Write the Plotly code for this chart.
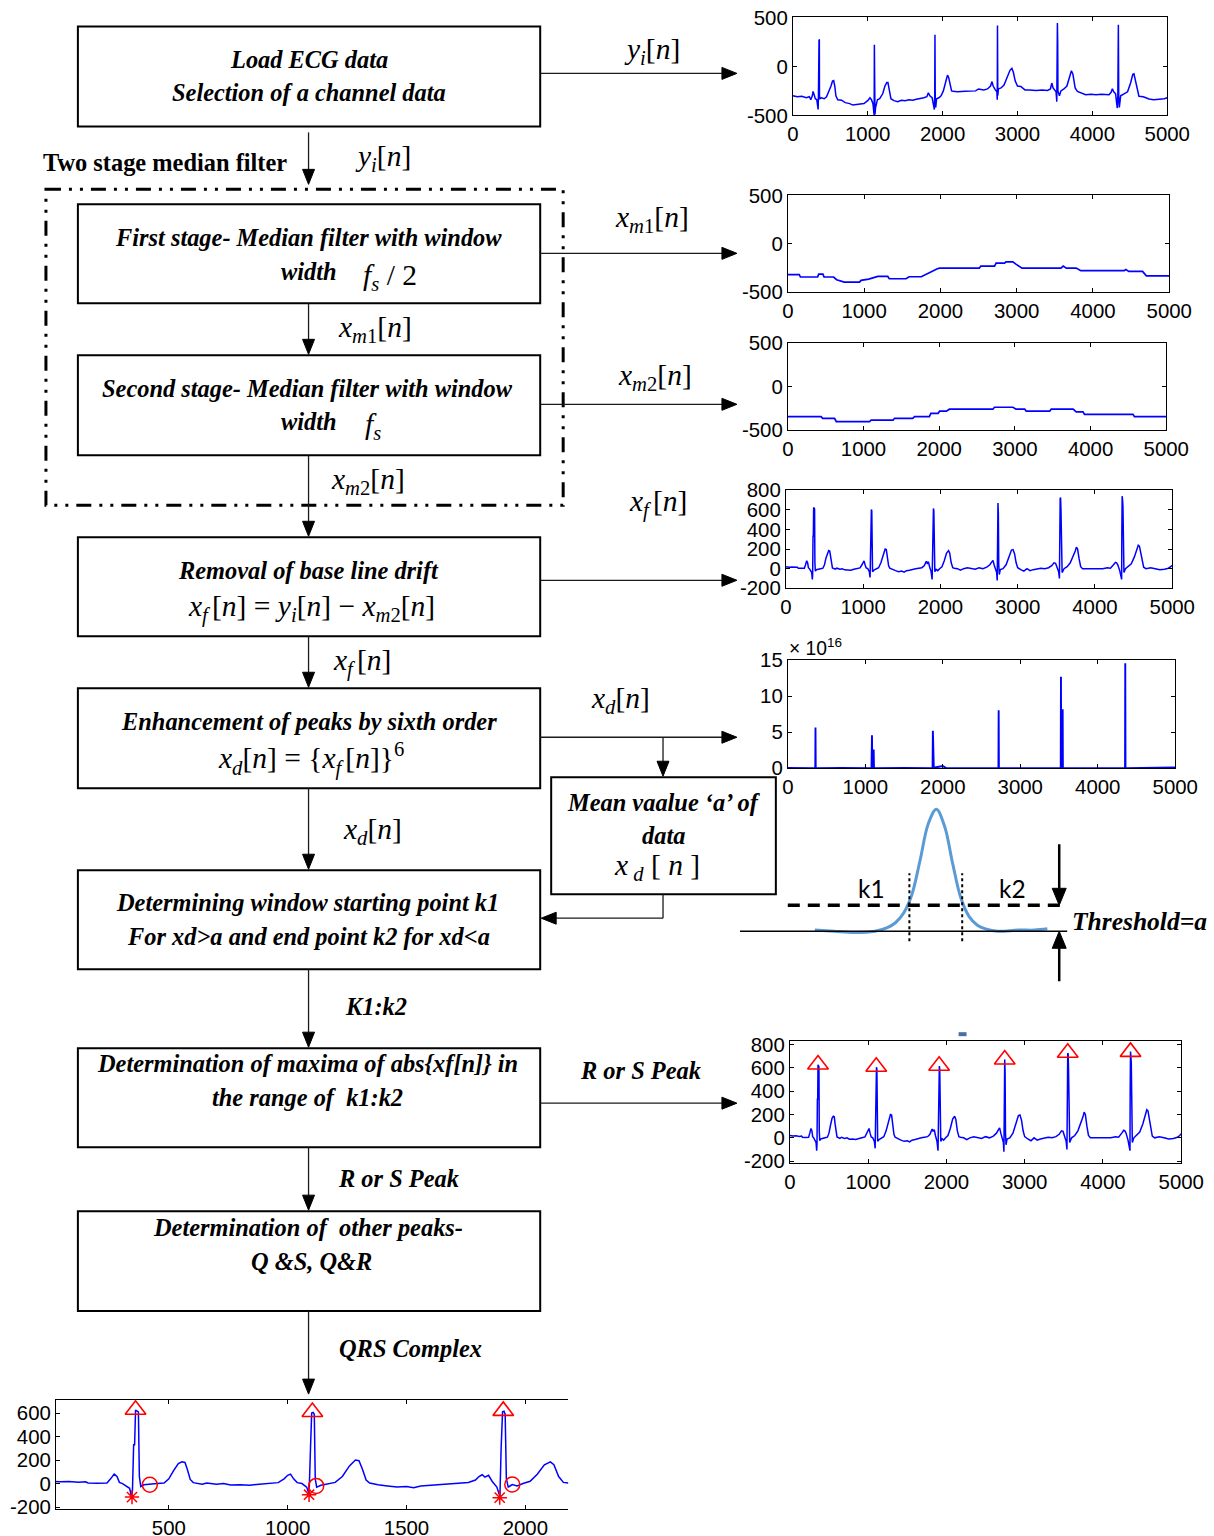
import plotly.graph_objects as go

# Target page size; the figure is laid out in target-page pixel units and
# mapped onto the figure through a small linear calibration of the capture.
W, H = 1214, 1536
SX, SY = 0.978, 0.986      # page px per figure px
CX, CY = 5.0, 9.6          # page offset of the figure origin
FW = round((W - CX) / SX)
FH = round((H - CY) / SY)
FS = 1.0 / 0.982           # font scale for the capture
SERIF = "Liberation Serif"
SANS = "Liberation Sans"
ECG_BLUE = "#0000ff"

# ---------------------------------------------------------------------------
# Signals: sample index n and amplitude
# ---------------------------------------------------------------------------
# raw channel y_i[n]
yi_n = [0, 60, 120, 180, 220, 240, 260, 270, 285, 300, 320, 338, 342, 344, 348, 350, 354, 356, 362, 380,
        420, 450, 480, 510, 530, 545, 560, 575, 600, 650, 700, 760, 800, 850, 900, 950, 1000, 1030, 1050, 1070,
        1082, 1086, 1089, 1093, 1097, 1105, 1130, 1160, 1200, 1230, 1255, 1270, 1290, 1310, 1350, 1400, 1450, 1500, 1550, 1600,
        1650, 1700, 1750, 1790, 1810, 1830, 1860, 1880, 1890, 1895, 1898, 1902, 1908, 1920, 1950, 1980, 2010, 2040, 2065, 2080,
        2100, 2120, 2140, 2200, 2300, 2400, 2440, 2480, 2550, 2600, 2640, 2660, 2675, 2700, 2725, 2730, 2733, 2737, 2745, 2780,
        2820, 2860, 2900, 2925, 2945, 2970, 3000, 3044, 3100, 3160, 3250, 3330, 3400, 3440, 3458, 3475, 3500, 3515, 3525, 3530,
        3533, 3537, 3540, 3560, 3580, 3620, 3660, 3700, 3720, 3740, 3770, 3800, 3850, 3910, 3980, 4050, 4120, 4180, 4222, 4250,
        4267, 4285, 4310, 4325, 4333, 4340, 4347, 4352, 4360, 4378, 4420, 4470, 4510, 4540, 4555, 4575, 4600, 4622, 4680, 4756,
        4820, 4900, 4960, 5000]
yi_v = [-300, -310, -305, -320, -310, -340, -300, -255, -290, -330, -340, -440, -300, 85, 90, 272, 270, -300, -330, -320,
        -330, -310, -260, -200, -150, -145, -200, -300, -340, -345, -370, -380, -395, -390, -385, -380, -350, -320, -340, -380,
        -470, -500, 221, -300, -490, -420, -340, -330, -280, -200, -165, -165, -260, -330, -350, -360, -345, -350, -340, -345,
        -335, -330, -320, -310, -270, -300, -320, -400, -440, -300, 323, -350, -420, -330, -320, -300, -250, -170, -90, -110,
        -200, -250, -255, -260, -255, -255, -250, -230, -240, -230, -200, -155, -200, -235, -260, -340, 418, -300, -230, -220,
        -190, -120, -40, -20, -60, -150, -200, -205, -240, -240, -245, -240, -245, -230, -170, -220, -250, -260, -360, 240,
        442, 240, -250, -300, -250, -230, -200, -100, -45, -80, -220, -255, -270, -290, -285, -290, -285, -290, -290, -265,
        -228, -260, -280, -380, -425, -300, 425, -300, -420, -300, -285, -260, -170, -80, -75, -150, -260, -305, -310, -333,
        -340, -335, -330, -320]

# first median stage x_m1[n]
xm1_n = [0, 150, 165, 390, 405, 460, 475, 600, 640, 700, 740, 940, 960, 1060, 1150, 1180, 1310, 1330, 1550, 1590,
         1750, 1800, 1880, 1960, 1990, 2510, 2530, 2710, 2730, 2840, 2860, 2950, 2990, 3040, 3070, 3580, 3610, 3650, 3780, 3840,
         4410, 4430, 4470, 4650, 4700, 5000]
xm1_v = [-318, -318, -342, -342, -312, -312, -342, -342, -370, -385, -394, -394, -377, -363, -340, -336, -336, -360, -360, -339,
         -339, -318, -291, -257, -250, -250, -229, -229, -199, -199, -185, -185, -209, -233, -250, -250, -229, -250, -250, -277,
         -277, -264, -284, -284, -330, -330]

# second median stage x_m2[n]
xm2_n = [0, 440, 460, 617, 640, 1080, 1100, 1390, 1410, 1650, 1675, 1870, 1890, 1985, 2005, 2095, 2135, 2710, 2730, 2975,
         3015, 3130, 3150, 3460, 3480, 3770, 3810, 3900, 3920, 4560, 4580, 5000]
xm2_v = [-343, -343, -362, -362, -399, -399, -384, -384, -362, -362, -343, -343, -306, -306, -280, -280, -257, -257, -235, -235,
         -257, -257, -280, -280, -257, -257, -287, -287, -317, -317, -343, -343]

# baseline-corrected x_f[n]
xf_n = [0, 40, 80, 120, 150, 160, 200, 240, 255, 270, 282, 292, 305, 322, 335, 343, 347, 352, 356, 360,
        366, 372, 376, 382, 395, 420, 450, 480, 500, 520, 540, 555, 568, 578, 590, 603, 640, 660, 700, 730,
        760, 800, 840, 880, 920, 960, 985, 1000, 1012, 1025, 1040, 1060, 1080, 1090, 1096, 1101, 1107, 1112, 1116, 1122,
        1140, 1170, 1200, 1230, 1260, 1285, 1300, 1315, 1330, 1345, 1380, 1420, 1460, 1500, 1530, 1560, 1600, 1640, 1680, 1720,
        1760, 1790, 1805, 1818, 1830, 1845, 1860, 1880, 1893, 1898, 1904, 1910, 1915, 1920, 1928, 1945, 1965, 1990, 2020, 2050,
        2080, 2105, 2120, 2140, 2160, 2180, 2220, 2260, 2300, 2350, 2400, 2450, 2500, 2550, 2600, 2640, 2665, 2680, 2695, 2710,
        2728, 2735, 2740, 2745, 2750, 2755, 2762, 2775, 2810, 2850, 2890, 2920, 2940, 2960, 2980, 3000, 3040, 3080, 3120, 3160,
        3200, 3250, 3300, 3350, 3400, 3440, 3470, 3490, 3505, 3530, 3540, 3545, 3550, 3555, 3560, 3566, 3575, 3600, 3640, 3680,
        3720, 3745, 3760, 3775, 3795, 3815, 3840, 3900, 3960, 4000, 4060, 4100, 4160, 4200, 4240, 4265, 4280, 4295, 4320, 4338,
        4345, 4348, 4352, 4357, 4362, 4368, 4375, 4395, 4430, 4470, 4510, 4540, 4560, 4575, 4590, 4610, 4630, 4660, 4720, 4780,
        4840, 4900, 4950, 4980, 5000]
xf_v = [20, 15, 18, 12, 15, 5, 3, 5, 40, 80, 60, 10, 0, -20, -40, -110, -60, 330, 330, 625,
        620, 610, 60, -25, -10, -8, 0, 5, 40, 110, 170, 185, 180, 120, 35, 8, -5, 5, -5, 0,
        -12, -10, -15, -5, 0, 8, 40, 70, 80, 40, 8, 0, -30, -90, 300, 600, 605, 590, 40, -30,
        -15, 0, 10, 60, 150, 200, 195, 120, 30, 5, -10, -20, -30, -25, -35, -20, -15, -5, 0, 5,
        10, 30, 60, 75, 55, 70, 20, -30, -110, 300, 610, 615, 590, 40, -30, -8, -20, 0, 20, 80,
        160, 185, 160, 60, 10, 5, 0, -15, 0, 10, 5, -5, 10, 0, 15, 40, 70, 85, 40, 0,
        -40, -120, 350, 670, 560, 40, -60, -10, 0, 40, 120, 190, 195, 150, 60, 10, -10, -25, 0, -20,
        -10, -5, 5, 0, 10, 30, 60, 55, 20, -30, -100, 490, 725, 720, 600, 50, -40, 0, 20, 60,
        130, 180, 220, 200, 100, 20, 0, 0, 5, 0, 5, 0, 10, 5, 40, 65, 60, 40, -20, -110,
        -110, 400, 740, 700, 640, 100, -40, 0, 20, 50, 120, 200, 240, 230, 170, 60, 15, 0, 10, 0,
        -10, -5, 5, 20, 35]

# sixth-power enhanced x_d[n], in units of 1e16
xd_n = [0, 350, 354, 357, 360, 700, 1080, 1086, 1090, 1104, 1108, 1112, 1500, 1868, 1872, 1876, 1880, 1884,
        1900, 2000, 2050, 2500, 2718, 2721, 2724, 3200, 3522, 3525, 3528, 3544, 3547, 3550, 4352, 4355, 4358, 5000]
xd_v = [0.05, 0.05, 0, 5.65, 0, 0.05, 0, 4.58, 0.2, 0, 2.6, 0, 0.05, 0, 5.2, 0.3, 5.2, 0,
        0.1, 0.3, 0, 0, 0, 8.05, 0, 0, 0, 12.7, 0.5, 0, 8.2, 0, 0, 14.6, 0, 0.1]

# detected R (or S) peaks
r_peak_n = [360, 1104, 1907, 2745, 3550, 4352]
r_peak_v = [628, 609, 618, 671, 729, 736]
# Q points (star) and S points (circle) on the first three beats
q_n = [345, 1090, 1892]
q_v = [-115, -95, -120]
s_n = [420, 1120, 1945]
s_v = [-10, -20, -8]

# threshold sketch: one enhanced peak, threshold a and window edges k1, k2
bell_t = [-2.97, -2.5, -2.0, -1.5, -1.2, -1.0, -0.8, -0.6, -0.4, -0.2, 0.0,
          0.2, 0.4, 0.6, 0.8, 1.0, 1.2, 1.5, 2.0, 2.4, 2.71]
bell_v = [0.01, 0.0, -0.01, 0.0, 0.03, 0.07, 0.15, 0.30, 0.58, 0.88, 1.0,
          0.86, 0.55, 0.27, 0.12, 0.05, 0.02, 0.0, 0.01, 0.01, 0.02]
threshold_a = 0.213
k1, k2 = -0.66, 0.63

# ---------------------------------------------------------------------------
fig = go.Figure()


def fs(size):
    return round(size * FS, 1)


AX = dict(showline=True, linecolor="black", linewidth=1, mirror="ticks", ticks="inside",
          ticklen=4, tickwidth=1, tickcolor="black", showgrid=False, zeroline=False,
          tickfont=dict(family=SANS, size=fs(20), color="black"), fixedrange=True)

k5000 = [0, 1000, 2000, 3000, 4000, 5000]
panels = {
    1: dict(px=(793, 1168), py=(16, 114), xr=[0, 5000], xt=k5000, yr=[-500, 500], yt=[-500, 0, 500]),
    2: dict(px=(788, 1170), py=(194, 291), xr=[0, 5000], xt=k5000, yr=[-500, 500], yt=[-500, 0, 500]),
    3: dict(px=(788, 1167), py=(342, 429), xr=[0, 5000], xt=k5000, yr=[-500, 500], yt=[-500, 0, 500]),
    4: dict(px=(786, 1173), py=(489, 587), xr=[0, 5000], xt=k5000, yr=[-200, 800],
            yt=[-200, 0, 200, 400, 600, 800]),
    5: dict(px=(788, 1176), py=(659, 767), xr=[0, 5000], xt=k5000, yr=[0, 15], yt=[0, 5, 10, 15]),
    6: dict(px=(790, 1182), py=(1040, 1162), xr=[0, 5000], xt=k5000, yr=[-217, 828],
            yt=[-200, 0, 200, 400, 600, 800]),
    7: dict(px=(55, 568), py=(1399, 1508), xr=[25, 2180], xt=[500, 1000, 1500, 2000], yr=[-217, 710],
            yt=[-200, 0, 200, 400, 600]),
}

PAGE_W = SX * FW
PAGE_H = SY * FH


def dom_x(a, b):
    return [(a - CX) / PAGE_W, (b - CX) / PAGE_W]


def dom_y(top, bottom):
    return [1 - (bottom - CY) / PAGE_H, 1 - (top - CY) / PAGE_H]


def ax_id(i):
    return "" if i == 1 else str(i)


layout_axes = {}
for i, p in panels.items():
    k = ax_id(i)
    xa = dict(AX, domain=dom_x(*p["px"]), range=p["xr"], tickvals=p["xt"],
              ticktext=[str(v) for v in p["xt"]], anchor="y" + k)
    ya = dict(AX, domain=dom_y(*p["py"]), range=p["yr"], tickvals=p["yt"],
              ticktext=[str(v) for v in p["yt"]], anchor="x" + k)
    if i == 7:
        ya["mirror"] = False
    layout_axes["xaxis" + k] = xa
    layout_axes["yaxis" + k] = ya

# whole-page axis in page pixel units for the flowchart
layout_axes["xaxis8"] = dict(domain=[0, 1], range=[CX, CX + PAGE_W], visible=False, anchor="y8", fixedrange=True)
layout_axes["yaxis8"] = dict(domain=[0, 1], range=[CY + PAGE_H, CY], visible=False, anchor="x8", fixedrange=True)
# threshold sketch axis
DX, DY = (740, 1068), (800, 985)
layout_axes["xaxis9"] = dict(domain=dom_x(*DX), range=[-4.8, 3.2], visible=False, anchor="y9", fixedrange=True)
layout_axes["yaxis9"] = dict(domain=dom_y(*DY), range=[-0.45, 1.066], visible=False, anchor="x9", fixedrange=True)


def line_trace(n, v, i, width=1.5):
    k = ax_id(i)
    return go.Scatter(x=n, y=v, mode="lines", line=dict(color=ECG_BLUE, width=width),
                      xaxis="x" + k, yaxis="y" + k, hoverinfo="skip")


fig.add_trace(line_trace(yi_n, yi_v, 1))
fig.add_trace(line_trace(xm1_n, xm1_v, 2, 1.7))
fig.add_trace(line_trace(xm2_n, xm2_v, 3, 1.7))
fig.add_trace(line_trace(xf_n, xf_v, 4))
fig.add_trace(line_trace(xd_n, xd_v, 5, 1.9))
fig.add_trace(line_trace(xf_n, xf_v, 6))
fig.add_trace(line_trace(xf_n, xf_v, 7))

TRI = dict(symbol="triangle-up-open", size=18, color="red", line=dict(color="red", width=1.6))
fig.add_trace(go.Scatter(x=r_peak_n, y=r_peak_v, mode="markers", marker=TRI, xaxis="x6", yaxis="y6",
                         cliponaxis=False))
fig.add_trace(go.Scatter(x=r_peak_n[:3], y=r_peak_v[:3], mode="markers", marker=TRI, xaxis="x7", yaxis="y7",
                         cliponaxis=False))
fig.add_trace(go.Scatter(x=q_n, y=q_v, mode="markers", xaxis="x7", yaxis="y7", cliponaxis=False,
                         marker=dict(symbol="asterisk-open", size=12, color="red",
                                     line=dict(color="red", width=1.5))))
fig.add_trace(go.Scatter(x=s_n, y=s_v, mode="markers", xaxis="x7", yaxis="y7", cliponaxis=False,
                         marker=dict(symbol="circle-open", size=15, color="red", line=dict(color="red", width=1.5))))

fig.add_trace(go.Scatter(x=bell_t, y=bell_v, mode="lines", line=dict(color="#5b9bd5", width=3, shape="spline"),
                         xaxis="x9", yaxis="y9", hoverinfo="skip"))
fig.add_trace(go.Scatter(x=[None], y=[None], xaxis="x8", yaxis="y8", hoverinfo="skip"))

fig.update_layout(width=FW, height=FH, margin=dict(l=0, r=0, t=0, b=0), paper_bgcolor="white",
                  plot_bgcolor="rgba(0,0,0,0)", showlegend=False, **layout_axes)

# ---------------------------------------------------------------------------
# Flowchart (page pixel coordinates)
# ---------------------------------------------------------------------------
PG = dict(xref="x8", yref="y8")
FLOW = dict(color="#1a1a1a", width=1.3)


def seg(x0, y0, x1, y1, line=FLOW):
    fig.add_shape(type="line", x0=x0, y0=y0, x1=x1, y1=y1, line=line, **PG)


def arrow(x0, y0, x1, y1, L=15, hw=6):
    dx = (x1 > x0) - (x1 < x0)
    dy = (y1 > y0) - (y1 < y0)
    bx, by = x1 - dx * L, y1 - dy * L
    seg(x0, y0, bx, by)
    if dx:
        pts = [(x1, y1), (bx, y1 - hw), (bx, y1 + hw)]
    else:
        pts = [(x1, y1), (x1 - hw, by), (x1 + hw, by)]
    path = "M " + " L ".join(f"{x},{y}" for x, y in pts) + " Z"
    fig.add_shape(type="path", path=path, fillcolor="black", line=dict(color="black", width=1), **PG)


boxes = [(77, 25, 540, 125), (77, 203, 540, 302), (77, 354, 540, 454), (77, 536, 540, 635),
         (77, 687, 540, 787), (551, 776, 776, 893), (77, 869, 540, 968), (77, 1047, 540, 1146),
         (77, 1210, 540, 1310)]
for x0, y0, x1, y1 in boxes:
    fig.add_shape(type="rect", x0=x0, y0=y0, x1=x1, y1=y1, line=dict(color="black", width=2), **PG)

# two-stage median filter frame
fig.add_shape(type="rect", x0=45, y0=188, x1=563, y1=504,
              line=dict(color="black", width=3, dash="15px,8px,3px,8px,3px,8px"), **PG)

arrow(540, 72, 737, 72)
arrow(308, 131, 308, 183)
arrow(540, 252, 737, 252)
arrow(308, 302, 308, 353)
arrow(540, 403, 737, 403)
arrow(308, 454, 308, 535)
arrow(540, 579, 737, 579)
arrow(308, 635, 308, 686)
arrow(540, 736, 737, 736)
arrow(663, 736, 663, 775)
seg(663, 893, 663, 917)
arrow(663, 917, 541, 917)
arrow(308, 787, 308, 868)
arrow(308, 968, 308, 1046)
arrow(540, 1102, 737, 1102)
arrow(308, 1146, 308, 1209)
arrow(308, 1310, 308, 1393)


def text(x, y, s, size=24, bold=True, italic=True, family=SERIF, xanchor="center", color="black"):
    if italic:
        s = f"<i>{s}</i>"
    if bold:
        s = f"<b>{s}</b>"
    fig.add_annotation(x=x, y=y, text=s, showarrow=False, xanchor=xanchor, yanchor="middle",
                       font=dict(family=family, size=fs(size), color=color), **PG)


def sig(base, sub):
    return f"<i>{base}</i><sub>{sub}</sub>[<i>n</i>]"


YI = sig("y", "<i>i</i>")
XM1 = sig("x", "<i>m</i>1")
XM2 = sig("x", "<i>m</i>2")
XF = sig("x", "<i>f</i>\u2009")
XD = sig("x", "<i>d</i>")

MATH = 29
text(652, 50, YI, MATH, bold=False, italic=False)
text(383, 157, YI, MATH, bold=False, italic=False)
text(652, 218, XM1, MATH, bold=False, italic=False)
text(375, 328, XM1, MATH, bold=False, italic=False)
text(655, 376, XM2, MATH, bold=False, italic=False)
text(368, 480, XM2, MATH, bold=False, italic=False)
text(658, 502, XF, MATH, bold=False, italic=False)
text(362, 661, XF, MATH, bold=False, italic=False)
text(620, 699, XD, MATH, bold=False, italic=False)
text(372, 830, XD, MATH, bold=False, italic=False)

text(164, 161, "Two stage median filter", 24, bold=True, italic=False)

text(308, 58, "Load ECG data")
text(308, 91, "Selection of a channel data")
text(308, 236, "First stage- Median filter with window")
text(308, 270, "width")
text(390, 276, "<i>f</i><sub><i>s</i></sub> / 2", MATH, bold=False, italic=False)
text(307, 387, "Second stage- Median filter with window")
text(308, 420, "width")
text(373, 425, "<i>f</i><sub><i>s</i></sub>", MATH, bold=False, italic=False)
text(308, 569, "Removal of base line drift")
text(311, 607, f"{XF} = {YI} \u2212 {XM2}", MATH, bold=False, italic=False)
text(308, 720, "Enhancement of peaks by sixth order")
text(310, 758, f"{XD} = {{{XF}}}<sup>6</sup>", MATH, bold=False, italic=False)
text(664, 801, "Mean vaalue \u2018a\u2019 of")
text(663, 834, "data")
text(657, 866, "<i>x</i><sub> <i>d</i></sub> [ <i>n</i> ]", MATH, bold=False, italic=False)
text(307, 901, "Determining window starting point k1")
text(308, 935, "For xd&gt;a and end point k2 for xd&lt;a")
text(376, 1005, "K1:k2")
text(307, 1062, "Determination of maxima of abs{xf[n]} in")
text(307, 1096, "the range of  k1:k2")
text(640, 1069, "R or S Peak")
text(398, 1177, "R or S Peak")
text(307, 1226, "Determination of  other peaks-")
text(311, 1260, "Q &amp;S, Q&amp;R")
text(410, 1347, "QRS Complex")

# exponent label of the x_d panel
text(787, 646, "\u00d7 10<sup>16</sup>", 19, bold=False, italic=False, family=SANS, xanchor="left")
# small mark above the peak panel
fig.add_shape(type="rect", x0=959, y0=1031, x1=967, y1=1035, fillcolor="#4a6fa5", line=dict(width=0), **PG)

# ---------------------------------------------------------------------------
# Threshold sketch (own axis units)
# ---------------------------------------------------------------------------
DG = dict(xref="x9", yref="y9")
fig.add_shape(type="line", x0=-4.8, x1=3.2, y0=0, y1=0, line=dict(color="black", width=1.5), **DG)
fig.add_shape(type="line", x0=-3.63, x1=3.13, y0=threshold_a, y1=threshold_a,
              line=dict(color="black", width=3.5, dash="12px,8px"), **DG)
for kk in (k1, k2):
    fig.add_shape(type="line", x0=kk, x1=kk, y0=-0.082, y1=0.475,
                  line=dict(color="black", width=2, dash="dot"), **DG)

sx = (DX[1] - DX[0]) / 8.0          # page px per x unit
sy = (DY[1] - DY[0]) / 1.516        # page px per y unit
ax_x = 3.0
hw, L = 7 / sx, 17 / sy
# arrow down onto threshold level
fig.add_shape(type="line", x0=ax_x, x1=ax_x, y0=0.713, y1=threshold_a + L,
              line=dict(color="black", width=2.5), **DG)
fig.add_shape(type="path", fillcolor="black", line=dict(color="black", width=1),
              path=f"M {ax_x},{threshold_a} L {ax_x - hw},{threshold_a + L} L {ax_x + hw},{threshold_a + L} Z", **DG)
# arrow up onto baseline
fig.add_shape(type="line", x0=ax_x, x1=ax_x, y0=-0.41, y1=-L,
              line=dict(color="black", width=2.5), **DG)
fig.add_shape(type="path", fillcolor="black", line=dict(color="black", width=1),
              path=f"M {ax_x},0 L {ax_x - hw},{-L} L {ax_x + hw},{-L} Z", **DG)

fig.add_annotation(x=-1.58, y=0.35, text="k1", showarrow=False, font=dict(family="Lato", size=fs(24), color="black"), **DG)
fig.add_annotation(x=1.86, y=0.35, text="k2", showarrow=False, font=dict(family="Lato", size=fs(24), color="black"), **DG)
text(1140, 920, "Threshold=a", 25)

fig.write_html("out.html")
